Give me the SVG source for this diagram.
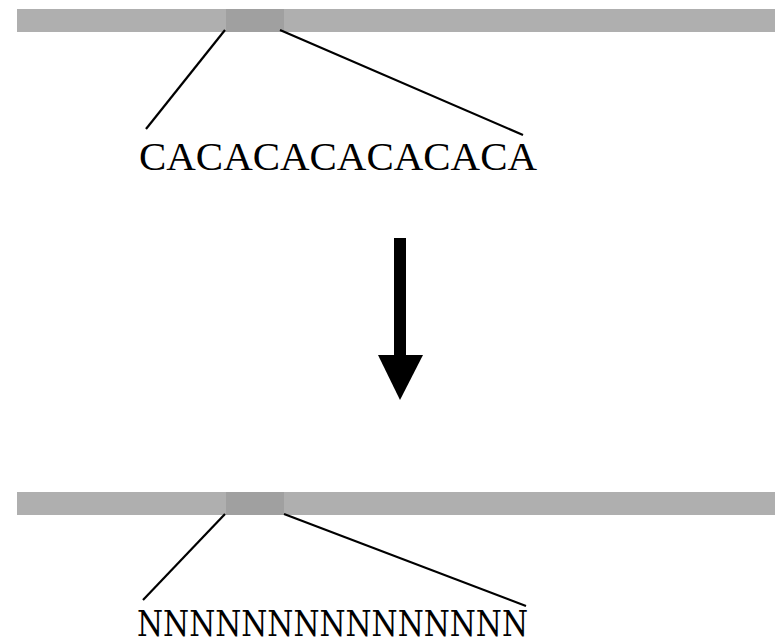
<svg xmlns="http://www.w3.org/2000/svg" width="775" height="643" viewBox="0 0 775 643">
<style>
.bar{fill:#afafaf}
.hl{fill:#a0a0a0}
.ln{stroke:#000;stroke-width:2.2;fill:none}
.mono{font-family:'Liberation Serif',serif}
.serif{font-family:'DejaVu Serif','Liberation Serif',serif}
</style>
<rect width="775" height="643" fill="#fff"/>
<g id="top-seq">
<rect class="bar" x="17" y="9" width="758" height="23"/>
<rect class="hl" x="226" y="9" width="58" height="23"/>
</g>
<g id="top-text">
<text class="mono" x="139" y="170" font-size="41" textLength="398" lengthAdjust="spacingAndGlyphs">CACACACACACACA</text>
</g>
<g id="bottom-seq">
<rect class="bar" x="17" y="492" width="758" height="23"/>
<rect class="hl" x="226" y="492" width="58" height="23"/>
</g>
<g id="bottom-text">
<text class="serif" x="137" y="636" font-size="35" textLength="391" lengthAdjust="spacingAndGlyphs">NNNNNNNNNNNNNNN</text>
</g>
<g id="connectors">
<line class="ln" x1="225" y1="30" x2="146" y2="129"/>
<line class="ln" x1="280" y1="30" x2="523" y2="135"/>
<line class="ln" x1="225" y1="514" x2="143" y2="600"/>
<line class="ln" x1="284" y1="514" x2="526" y2="606"/>
<rect x="394" y="238" width="12" height="120"/>
<polygon points="378,355 423,355 400,400"/>
</g>
</svg>
